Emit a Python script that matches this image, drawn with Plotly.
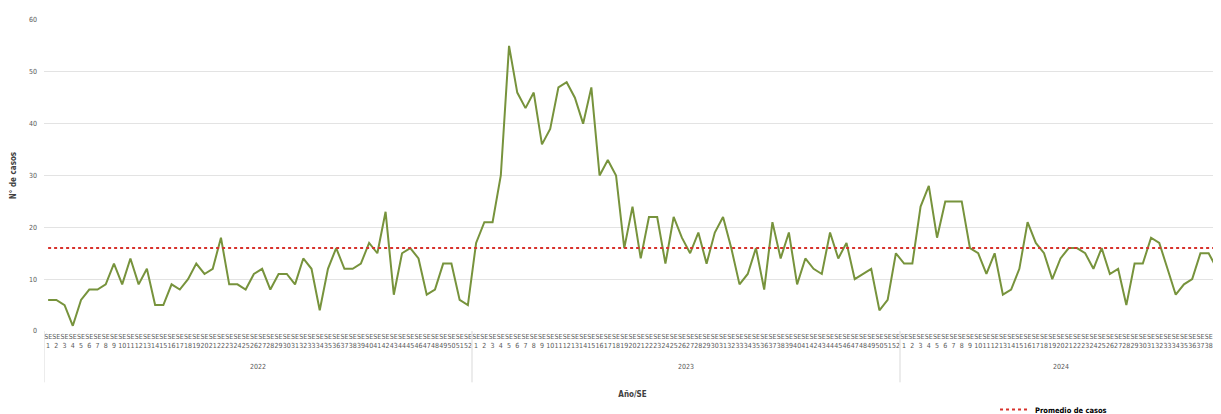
import plotly.graph_objects as go

years = ["2022", "2023", "2024"]
cases_2022 = [6, 6, 5, 1, 6, 8, 8, 9, 13, 9, 14, 9, 12, 5, 5, 9, 8, 10, 13, 11,
              12, 18, 9, 9, 8, 11, 12, 8, 11, 11, 9, 14, 12, 4, 12, 16, 12, 12, 13, 17,
              15, 23, 7, 15, 16, 14, 7, 8, 13, 13, 6, 5]
cases_2023 = [17, 21, 21, 30, 55, 46, 43, 46, 36, 39, 47, 48, 45, 40, 47, 30, 33, 30,
              16, 24, 14, 22, 22, 13, 22, 18, 15, 19, 13, 19, 22, 16, 9, 11, 16, 8, 21,
              14, 19, 9, 14, 12, 11, 19, 14, 17, 10, 11, 12, 4, 6, 15]
cases_2024 = [13, 13, 24, 28, 18, 25, 25, 25, 16, 15, 11, 15, 7, 8, 12, 21, 17, 15, 10, 14,
              16, 16, 15, 12, 16, 11, 12, 5, 13, 13, 18, 17, 12, 7, 9, 10, 15, 15, 12]
average_cases = 16

series = [cases_2022, cases_2023, cases_2024]
x_idx, tick_text, y_vals = [], [], []
year_bounds = []
for yr, vals in zip(years, series):
    start = len(y_vals)
    for i, v in enumerate(vals):
        x_idx.append(len(y_vals))
        tick_text.append(f"SE<br>{i + 1}")
        y_vals.append(v)
    year_bounds.append((yr, start, len(y_vals) - 1))

FONT = "DejaVu Sans Condensed, Liberation Sans Narrow, Arial, sans-serif"

fig = go.Figure()
fig.add_trace(go.Scatter(
    x=x_idx, y=y_vals, mode="lines",
    line=dict(color="#77933C", width=2), name="Casos", showlegend=False,
))
fig.add_trace(go.Scatter(
    x=x_idx, y=[average_cases] * len(y_vals), mode="lines",
    line=dict(color="#D8322C", width=2, dash="dot"), name="<b>Promedio de casos</b>",
))

# year group labels and dividers (Excel-style multi-level category axis)
for yr, s, e in year_bounds:
    fig.add_annotation(x=(s + e) / 2, y=-0.116, xref="x", yref="paper",
                       text=yr, showarrow=False, yanchor="middle",
                       font=dict(size=7, color="#595959", family=FONT))
    fig.add_shape(type="line", x0=s - 0.5, x1=s - 0.5, y0=0, y1=-0.165,
                  xref="x", yref="paper", line=dict(color="#D9D9D9", width=1))

fig.update_layout(
    width=1213, height=406,
    margin=dict(l=36, r=0, t=12, b=83, autoexpand=False),
    paper_bgcolor="white", plot_bgcolor="white",
    font=dict(family=FONT, color="#595959", size=7),
    showlegend=True,
    legend=dict(orientation="h", x=0.808, xanchor="left", y=-0.206, yanchor="top",
                font=dict(size=7.5, color="#000000", family=FONT),
                bgcolor="rgba(0,0,0,0)", itemwidth=30),
    xaxis=dict(
        range=[-0.5, len(y_vals) - 0.5], automargin=False,
        tickmode="array", tickvals=x_idx, ticktext=tick_text,
        showgrid=False, ticks="", tickangle=0, ticklabelstandoff=0,
        tickfont=dict(size=7, color="#595959", family=FONT),
        title=dict(text="<b>Año/SE</b>", font=dict(size=8, color="#404040"), standoff=42),
        showline=False, zeroline=False,
    ),
    yaxis=dict(
        range=[0, 60], dtick=10, showgrid=True, gridcolor="#E3E3E3", gridwidth=1,
        zeroline=False, showline=False, ticks="", ticklabelstandoff=6, automargin=False,
        tickfont=dict(size=7, color="#595959", family=FONT),
        title=dict(text="<b>N° de casos</b>", font=dict(size=8, color="#404040"), standoff=11),
    ),
)

fig.write_html("out.html")
